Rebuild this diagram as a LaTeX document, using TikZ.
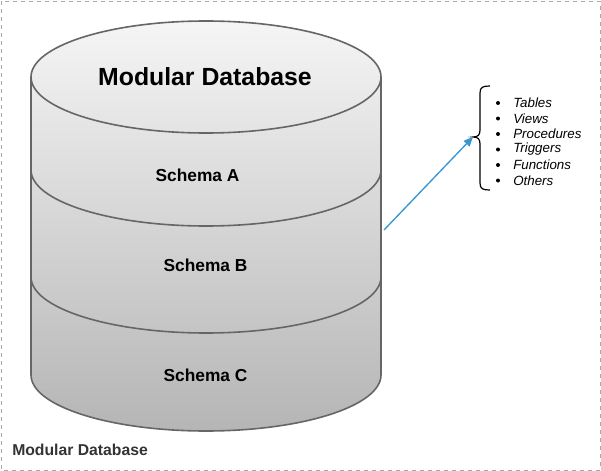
\documentclass[tikz,border=0pt]{standalone}
\usepackage{fontspec}
\setmainfont{Liberation Sans}
\usetikzlibrary{arrows.meta}
\definecolor{bordergray}{HTML}{AAAAAA}
\definecolor{strokegray}{HTML}{666666}
\definecolor{toptone}{HTML}{F5F5F5}
\definecolor{bottomtone}{HTML}{B5B5B5}
\definecolor{arrowblue}{RGB}{55,150,210}
\definecolor{labelgray}{HTML}{333333}
\begin{document}
\begin{tikzpicture}[x=0.75pt,y=-0.75pt,
  outline/.style={draw=strokegray,line width=1.2pt},
  titletext/.style={font=\bfseries\fontsize{18.6}{22}\selectfont,text=black},
  schematext/.style={font=\bfseries\fontsize{13}{15}\selectfont,text=black},
  itemtext/.style={font=\itshape\fontsize{10}{12}\selectfont,anchor=west,inner sep=0pt},
  bulletdot/.style={circle,fill=black,inner sep=0pt,minimum size=3pt},
  footlabel/.style={font=\bfseries\fontsize{11.8}{14}\selectfont,text=labelgray,anchor=west,inner sep=0pt}]
\useasboundingbox (0,0) rectangle (601,471);
\draw[bordergray,dashed,line width=0.75pt] (1,1) rectangle (600,470);
% cylinder body
\shade[top color=toptone,bottom color=bottomtone]
  (31,77) -- (31,375) arc (180:0:175 and 56) -- (381,77) arc (0:-180:175 and 56) -- cycle;
\draw[outline] (31,77) -- (31,375) arc (180:0:175 and 56) -- (381,77);
\draw[outline] (206,77) ellipse (175 and 56);
\draw[outline] (31,170) arc (180:0:175 and 56);
\draw[outline] (31,277) arc (180:0:175 and 56);
% texts
\node[titletext] (title) at (205,77) {Modular Database};
\node[schematext] (sa) at (197.5,175) {Schema A};
\node[schematext] (sb) at (205.5,265) {Schema B};
\node[schematext] (sc) at (205.5,375) {Schema C};
% brace
\coordinate (bracetip) at (473,137);
\draw[black,line width=0.9pt] (490,86) .. controls (483,86) and (480,87) .. (480,93) -- (480,130) .. controls (480,135) and (478,137) .. (bracetip) .. controls (478,137) and (480,139) .. (480,144) -- (480,183) .. controls (480,189) and (483,190) .. (490,190);
% list
\foreach \t/\yy/\n in {Tables/103/i1,Views/118.5/i2,Procedures/134/i3,Triggers/149.5/i4,Functions/165/i5,Others/180.5/i6}{
  \node[bulletdot] (b\n) at (498,\yy) {};
  \node[itemtext] (\n) at (513,\yy) {\t};
}
% arrow
\coordinate (astart) at (384,230);
\draw[arrowblue,line width=1pt,-{Triangle[length=7pt,width=6pt]}] (astart) -- (bracetip);
% footer
\node[footlabel] (foot) at (12,450) {Modular Database};
\end{tikzpicture}
\end{document}
